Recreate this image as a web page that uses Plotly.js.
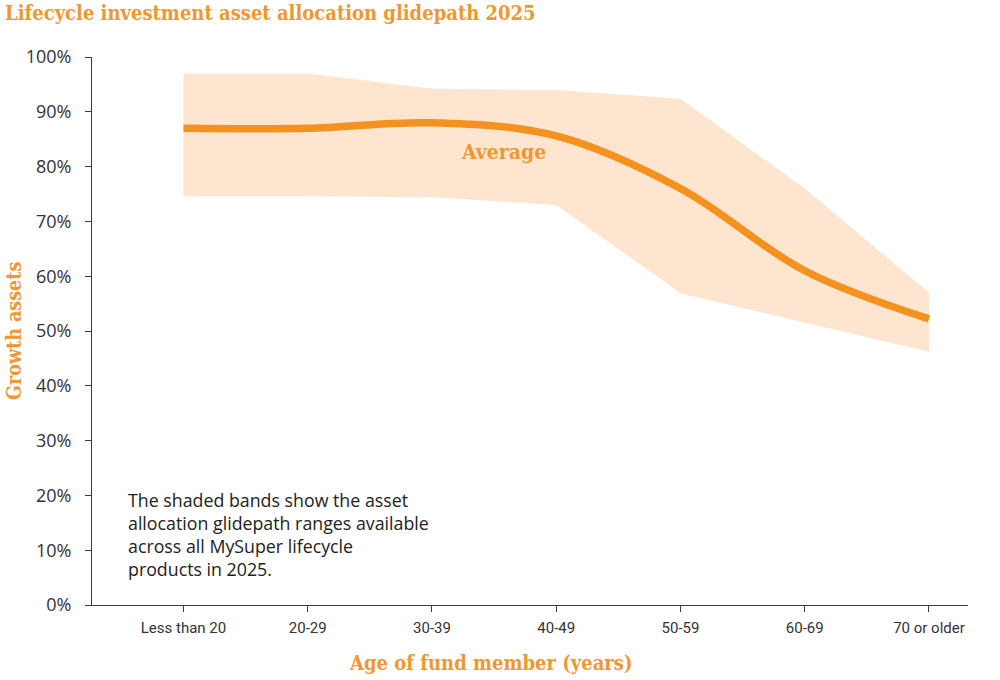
<!DOCTYPE html>
<html>
<head>
<meta charset="utf-8">
<script src="https://cdn.plot.ly/plotly-3.0.1.min.js"></script>
<style>html,body{margin:0;padding:0;background:#fff;}#chart{width:1000px;height:680px;}</style>
</head>
<body>
<div id="chart"></div>
<script>
const categories = ["Less than 20", "20-29", "30-39", "40-49", "50-59", "60-69", "70 or older"];
const upperRange = [97, 97, 94.2, 94, 92.4, 76, 57];
const lowerRange = [74.6, 74.6, 74.4, 73, 56.9, 51.6, 46.2];
const average = [87, 87, 88, 85.6, 76, 61, 52.2];
const yTickVals = [0, 10, 20, 30, 40, 50, 60, 70, 80, 90, 100];
const yTickText = yTickVals.map(v => v + "%");

const orange = "#F3921F";
const titleOrange = "#F0972F";
const bandFill = "#FDE5CF";
const serif = "'DejaVu Serif Condensed', 'Liberation Serif', serif";
const sans = "'Open Sans', 'Liberation Sans', sans-serif";

const traces = [
  {
    x: categories, y: lowerRange, type: "scatter", mode: "lines",
    line: {width: 0, color: bandFill}, hoverinfo: "skip", showlegend: false
  },
  {
    x: categories, y: upperRange, type: "scatter", mode: "lines",
    fill: "tonexty", fillcolor: bandFill,
    line: {width: 0, color: bandFill}, hoverinfo: "skip", showlegend: false
  },
  {
    x: categories, y: average, type: "scatter", mode: "lines",
    line: {color: orange, width: 7.5, shape: "spline", smoothing: 1},
    showlegend: false, name: "Average"
  }
];

const layout = {
  width: 1000, height: 680,
  paper_bgcolor: "#ffffff", plot_bgcolor: "#ffffff",
  margin: {l: 92, r: 32, t: 57, b: 75},
  title: {
    text: "<b>Lifecycle investment asset allocation glidepath 2025</b>",
    font: {family: serif, size: 20, color: titleOrange},
    x: 0.005, xanchor: "left", xref: "container",
    y: 0.981, yanchor: "middle", yref: "container"
  },
  xaxis: {
    type: "category",
    range: [-0.736, 6.314],
    showgrid: false, zeroline: false,
    showline: true, linecolor: "#3a3a3a", linewidth: 1,
    ticks: "outside", ticklen: 6, tickcolor: "#3a3a3a",
    ticklabelstandoff: 3,
    tickfont: {family: "'Liberation Sans Narrow', 'Roboto', sans-serif", size: 15, color: "#333333"},
    fixedrange: true
  },
  yaxis: {
    range: [0, 100],
    tickvals: yTickVals, ticktext: yTickText,
    showgrid: false, zeroline: false,
    showline: true, linecolor: "#3a3a3a", linewidth: 1,
    ticks: "outside", ticklen: 6, tickcolor: "#3a3a3a",
    ticklabelstandoff: 10,
    tickfont: {family: sans, size: 18, color: "#333333"},
    fixedrange: true
  },
  annotations: [
    {
      x: 2.574, y: 82.8, xref: "x", yref: "y",
      text: "<b>Average</b>", showarrow: false,
      font: {family: serif, size: 21, color: titleOrange}
    },
    {
      x: -0.466, y: 21.7, xref: "x", yref: "y",
      xanchor: "left", yanchor: "top", align: "left",
      text: "The shaded bands show the asset<br>allocation glidepath ranges available<br>across all MySuper lifecycle<br>products in 2025.",
      showarrow: false,
      font: {family: sans, size: 17.8, color: "#222222"}
    },
    {
      x: 0, y: 0, xref: "paper", yref: "paper", xanchor: "center", yanchor: "middle",
      text: "<b>Age of fund member (years)</b>", showarrow: false,
      font: {family: serif, size: 20, color: titleOrange}
    },
    {
      x: 0, y: 0.5, xref: "paper", yref: "paper", xanchor: "center", yanchor: "middle",
      text: "<b>Growth assets</b>", showarrow: false, textangle: -90,
      font: {family: serif, size: 19.5, color: titleOrange}
    }
  ]
};
// place the axis-title annotations (pixel positions -> paper coords)
const plotW = 1000 - layout.margin.l - layout.margin.r;
const plotH = 680 - layout.margin.t - layout.margin.b;
const xt = layout.annotations[2];
xt.x = (491 - layout.margin.l) / plotW;
xt.y = (680 - layout.margin.b - 663) / plotH;
const yt = layout.annotations[3];
yt.x = (14 - layout.margin.l) / plotW;

Plotly.newPlot("chart", traces, layout, {displayModeBar: false, staticPlot: true});
</script>
</body>
</html>
